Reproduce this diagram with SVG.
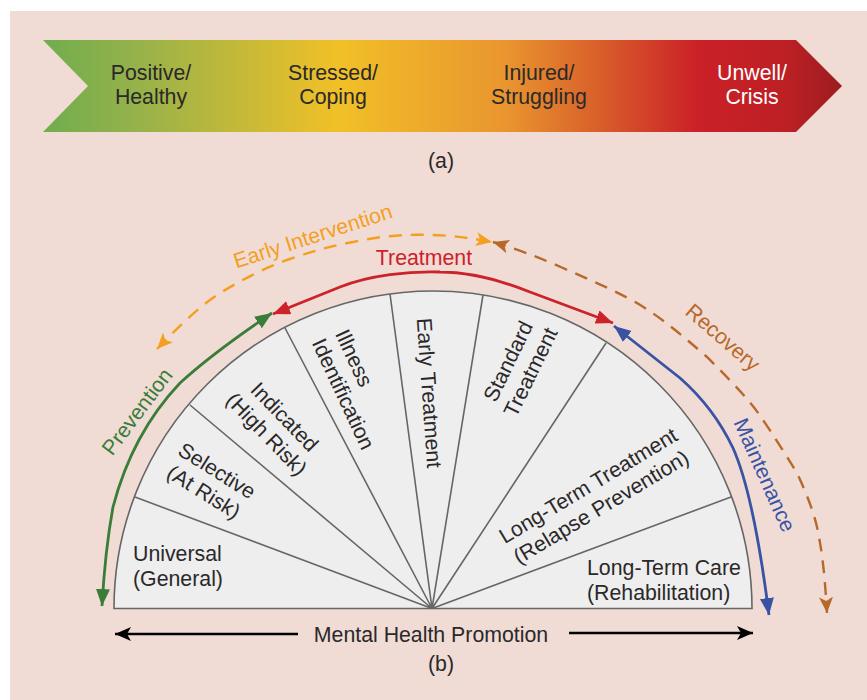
<svg xmlns="http://www.w3.org/2000/svg" width="867" height="700" viewBox="0 0 867 700">
<style>
text{font-family:"Liberation Sans",Arial,sans-serif;font-size:21.3px;fill:#2b2829}
.m{text-anchor:middle}
.sec{fill:none;stroke:#666;stroke-width:1.6}
.c{fill:none;stroke-width:2.8}
.d{fill:none;stroke-width:2.4;stroke-dasharray:13 9}
</style>
<defs>
<linearGradient id="g" gradientUnits="userSpaceOnUse" x1="43" y1="0" x2="842" y2="0">
<stop offset="0" stop-color="#70ad4e"/><stop offset="0.12" stop-color="#97b24a"/><stop offset="0.37" stop-color="#f1c027"/><stop offset="0.58" stop-color="#e9952f"/><stop offset="0.69" stop-color="#d9622a"/><stop offset="0.82" stop-color="#cb2027"/><stop offset="0.93" stop-color="#bc2025"/><stop offset="1" stop-color="#9c1c1f"/>
</linearGradient>
<marker id="ag" markerUnits="userSpaceOnUse" markerWidth="20" markerHeight="16" refX="17" refY="7" orient="auto-start-reverse"><path d="M0,0L17,7L0,14Z" fill="#3a7d38"/></marker>
<marker id="ar" markerUnits="userSpaceOnUse" markerWidth="20" markerHeight="16" refX="17" refY="7" orient="auto-start-reverse"><path d="M0,0L17,7L0,14Z" fill="#cc2229"/></marker>
<marker id="ab" markerUnits="userSpaceOnUse" markerWidth="20" markerHeight="16" refX="17" refY="7" orient="auto-start-reverse"><path d="M0,0L17,7L0,14Z" fill="#3953a4"/></marker>
<marker id="ao" markerUnits="userSpaceOnUse" markerWidth="20" markerHeight="16" refX="16" refY="7" orient="auto-start-reverse"><path d="M0,0L16,7L0,14L4,7Z" fill="#f59f1f"/></marker>
<marker id="an" markerUnits="userSpaceOnUse" markerWidth="20" markerHeight="16" refX="16" refY="7" orient="auto-start-reverse"><path d="M0,0L16,7L0,14L4,7Z" fill="#b8692a"/></marker>
<marker id="ak" markerUnits="userSpaceOnUse" markerWidth="20" markerHeight="16" refX="16" refY="7" orient="auto"><path d="M0,0L16,7L0,14L4,7Z" fill="#000"/></marker>
</defs>
<rect width="867" height="700" fill="#fff"/>
<rect x="10" y="11" width="857" height="689" fill="#f0dbd5"/>
<g id="spectrum">
<polygon points="43,40 796,40 842,86 796,132 43,132 88,86" fill="url(#g)"/>
<text class="m" x="151" y="80">Positive/</text><text class="m" x="151" y="104">Healthy</text>
<text class="m" x="333" y="80">Stressed/</text><text class="m" x="333" y="104">Coping</text>
<text class="m" x="539" y="80">Injured/</text><text class="m" x="539" y="104">Struggling</text>
<text class="m" x="752" y="80" style="fill:#fff">Unwell/</text><text class="m" x="752" y="104" style="fill:#fff">Crisis</text>
<text class="m" x="441" y="168">(a)</text>
</g>
<g id="semicircle">
<path class="sec" d="M114,608.500A318.500,317 0 0 1 752,608.500Z" style="fill:#eeeeee"/>
<path class="sec" d="M432,608.500L135,497M432,608.500L190,405M432,608.500L285,328M432,608.500L390,294M432,608.500L483,295M432,608.500L606,343M432,608.500L731,497"/>
</g>
<g id="n-universal"><text x="133" y="561">Universal</text><text x="133" y="586">(General)</text></g>
<g id="n-selective" transform="translate(210,482) rotate(32)"><text class="m" x="0" y="-6">Selective</text><text class="m" x="0" y="19">(At Risk)</text></g>
<g id="n-indicated" transform="translate(275,426) rotate(46)"><text class="m" x="0" y="-6">Indicated</text><text class="m" x="0" y="19">(High Risk)</text></g>
<g id="n-illness" transform="translate(354,389) rotate(65)"><text class="m" x="-28" y="-6">Illness</text><text class="m" x="0" y="19">Identification</text></g>
<g id="n-early" transform="translate(429,393) rotate(86)"><text class="m" x="0" y="7">Early Treatment</text></g>
<g id="n-standard" transform="translate(520,367) rotate(-64)"><text class="m" x="0" y="-6">Standard</text><text class="m" x="0" y="19">Treatment</text></g>
<g id="n-longtreat" transform="translate(595,497) rotate(-31)"><text class="m" x="0" y="-6">Long-Term Treatment</text><text class="m" x="0" y="19">(Relapse Prevention)</text></g>
<g id="n-longcare"><text x="587" y="575">Long-Term Care</text><text x="587" y="600">(Rehabilitation)</text></g>
<g id="connectors">
<path class="c" stroke="#3a7d38" marker-start="url(#ag)" marker-end="url(#ag)" d="M272,313C232,340 205,360 180,383C145,420 124,465 113,507C107,540 104,570 102,606"/>
<path class="c" stroke="#cc2229" marker-start="url(#ar)" marker-end="url(#ar)" d="M273,314L340,287C370,275 410,271 440,272C470,272 500,280 530,292L613,323"/>
<path class="c" stroke="#3953a4" marker-start="url(#ab)" marker-end="url(#ab)" d="M614,326L680,378C705,400 722,425 733,448C745,475 757,520 769,615"/>
<path class="d" stroke="#f59f1f" marker-start="url(#ao)" marker-end="url(#ao)" d="M157,349C180,325 200,306 220,293C245,278 265,268 287,260C310,252 330,246 353,242C380,236 405,234 430,235C450,235 470,238 492,242"/>
<path class="d" stroke="#b8692a" marker-start="url(#an)" marker-end="url(#an)" d="M493,242C520,250 540,258 563,268C590,280 612,289 637,303C665,320 685,338 707,357C730,380 750,400 763,420C780,445 792,465 797,473C807,495 813,510 817,527C823,555 825,580 827,613"/>
<path fill="none" stroke="#000" stroke-width="2.4" marker-end="url(#ak)" d="M298,634L115,634"/>
<path fill="none" stroke="#000" stroke-width="2.4" marker-end="url(#ak)" d="M569,633L753,633"/>
</g>
<g id="labels">
<text class="m" x="143" y="416" transform="rotate(-53 143 416)" style="fill:#3a7d38">Prevention</text>
<text class="m" x="315" y="243" transform="rotate(-18 315 243)" style="fill:#f59f1f">Early Intervention</text>
<text class="m" x="424" y="265" style="fill:#cc2229">Treatment</text>
<text class="m" x="718" y="343" transform="rotate(41 718 343)" style="fill:#b8692a">Recovery</text>
<text class="m" x="758" y="478" transform="rotate(66 758 478)" style="fill:#3953a4">Maintenance</text>
<text class="m" x="431" y="642">Mental Health Promotion</text>
<text class="m" x="441" y="671">(b)</text>
</g>
</svg>
